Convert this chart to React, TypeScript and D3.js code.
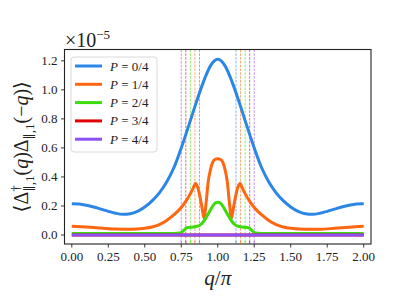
import React from 'react';
import * as d3 from 'd3';

// q/pi grid + values (units of 1e-5)
const blueQ = [0, 0.05, 0.1, 0.15, 0.2, 0.25, 0.3, 0.35, 0.4, 0.45, 0.5, 0.55, 0.6, 0.65, 0.7, 0.75, 0.8, 0.85, 0.9, 0.95, 1.0,
  1.05, 1.1, 1.15, 1.2, 1.25, 1.3, 1.35, 1.4, 1.45, 1.5, 1.55, 1.6, 1.65, 1.7, 1.75, 1.8, 1.85, 1.9, 1.95, 2.0];
const blueVals = [0.215, 0.213, 0.205, 0.193, 0.178, 0.163, 0.15, 0.143, 0.147, 0.163, 0.193, 0.235, 0.29, 0.365, 0.465, 0.6, 0.75, 0.905, 1.05, 1.165, 1.21,
  1.165, 1.05, 0.905, 0.75, 0.6, 0.465, 0.365, 0.29, 0.235, 0.193, 0.163, 0.147, 0.143, 0.15, 0.163, 0.178, 0.193, 0.205, 0.213, 0.215];

const orangeQ = [0, 0.1, 0.2, 0.3, 0.4, 0.5, 0.55, 0.6, 0.65, 0.7, 0.75, 0.78, 0.81, 0.83, 0.847, 0.862, 0.877, 0.892, 0.906, 0.92, 0.935, 0.95, 0.965, 0.98, 1.0,
  1.02, 1.035, 1.05, 1.065, 1.08, 1.094, 1.108, 1.123, 1.138, 1.153, 1.17, 1.19, 1.22, 1.25, 1.3, 1.35, 1.4, 1.45, 1.5, 1.6, 1.7, 1.8, 1.9, 2.0];
const orangeVals = [0.06, 0.055, 0.048, 0.041, 0.039, 0.046, 0.055, 0.072, 0.1, 0.14, 0.19, 0.23, 0.28, 0.32, 0.355, 0.33, 0.27, 0.19, 0.115, 0.22, 0.37, 0.45, 0.5, 0.52, 0.525,
  0.52, 0.5, 0.45, 0.37, 0.22, 0.115, 0.19, 0.27, 0.33, 0.355, 0.32, 0.28, 0.23, 0.19, 0.14, 0.1, 0.072, 0.055, 0.046, 0.04, 0.04, 0.046, 0.054, 0.06];

const greenQ = [0, 0.25, 0.5, 0.7, 0.74, 0.76, 0.78, 0.8, 0.83, 0.86, 0.88, 0.9, 0.92, 0.94, 0.96, 0.98, 1.0,
  1.02, 1.04, 1.06, 1.08, 1.1, 1.12, 1.14, 1.17, 1.2, 1.22, 1.24, 1.26, 1.3, 1.5, 1.75, 2.0];
const greenVals = [0.01, 0.01, 0.01, 0.011, 0.013, 0.025, 0.045, 0.052, 0.055, 0.06, 0.07, 0.09, 0.12, 0.155, 0.19, 0.218, 0.226,
  0.218, 0.19, 0.155, 0.12, 0.09, 0.07, 0.06, 0.055, 0.052, 0.045, 0.025, 0.013, 0.011, 0.01, 0.01, 0.01];

const redQ = [0, 0.5, 1.0, 1.5, 2.0];
const redVals = [0, 0, 0, 0, 0];
const purpleQ = [0, 0.5, 1.0, 1.5, 2.0];
const purpleVals = [0, 0, 0, 0, 0];

const labels = ['P = 0/4', 'P = 1/4', 'P = 2/4', 'P = 3/4', 'P = 4/4'];
const colors = ['#2b86e6', '#ff6610', '#3cdc0c', '#e40000', '#8c50f5'];

// dashed markers per series (q/pi), left and right of pi
const markerLeft = [0.875, 0.84375, 0.8125, 0.78125, 0.75];
const markerRight = [1.125, 1.15625, 1.1875, 1.21875, 1.25];

const xTicks = [0, 0.25, 0.5, 0.75, 1.0, 1.25, 1.5, 1.75, 2.0];
const yTicks = [0, 0.2, 0.4, 0.6, 0.8, 1.0, 1.2];

const W = 398;
const H = 307;
const left = 64.5;
const right = 371;
const top = 49.5;
const bottom = 244;
const serif = "'Liberation Serif', 'DejaVu Serif', serif";

export default function App() {
  const x = d3.scaleLinear().domain([-0.05, 2.05]).range([left, right]);
  const y = d3.scaleLinear().domain([-0.062, 1.278]).range([bottom, top]);

  const series = [
    [blueQ, blueVals],
    [orangeQ, orangeVals],
    [greenQ, greenVals],
    [redQ, redVals],
    [purpleQ, purpleVals],
  ];

  const line = d3
    .line<[number, number]>()
    .x((d) => x(d[0]))
    .y((d) => y(d[1]))
    .curve(d3.curveMonotoneX);

  const ts = { fontFamily: serif, fill: '#222' };

  return (
    <svg width={W} height={H} style={{ position: 'absolute', left: 0, top: 0, background: '#fff', fontFamily: serif }}>
      <defs>
        <clipPath id="plot">
          <rect x={left} y={top} width={right - left} height={bottom - top} />
        </clipPath>
      </defs>

      {/* dashed markers */}
      <g clipPath="url(#plot)">
        {colors.map((c, i) =>
          [markerLeft[i], markerRight[i]].map((q, j) => (
            <line
              key={`${i}-${j}`}
              x1={x(q)}
              x2={x(q)}
              y1={top}
              y2={bottom}
              stroke={c}
              strokeOpacity={0.65}
              strokeWidth={0.9}
              strokeDasharray="2.6,1.2"
            />
          ))
        )}
      </g>

      {/* curves */}
      <g clipPath="url(#plot)">
        {series.map(([qs, vs], i) => (
          <path
            key={i}
            d={line(qs.map((q, k) => [q, vs[k]]) as [number, number][]) || ''}
            fill="none"
            stroke={colors[i]}
            strokeWidth={3}
            strokeLinejoin="round"
          />
        ))}
      </g>

      {/* frame */}
      <rect x={left} y={top} width={right - left} height={bottom - top} fill="none" stroke="#222" strokeWidth={1.1} />

      {/* x axis */}
      {xTicks.map((t) => (
        <g key={t} transform={`translate(${x(t)},${bottom})`}>
          <line y1={0} y2={3.5} stroke="#222" strokeWidth={0.9} />
          <text y={17} textAnchor="middle" style={{ ...ts, fontSize: 13 }}>
            {t.toFixed(2)}
          </text>
        </g>
      ))}
      {markerLeft.concat(markerRight).map((q, i) => (
        <line key={i} x1={x(q)} x2={x(q)} y1={bottom} y2={bottom - 3} stroke={colors[i % 5]} strokeOpacity={0.8} strokeWidth={0.9} />
      ))}

      {/* y axis */}
      {yTicks.map((t) => (
        <g key={t} transform={`translate(${left},${y(t)})`}>
          <line x1={0} x2={-3.5} stroke="#222" strokeWidth={0.9} />
          <text x={-7} dy="0.33em" textAnchor="end" style={{ ...ts, fontSize: 13 }}>
            {t.toFixed(1)}
          </text>
        </g>
      ))}

      {/* offset text */}
      <text x={65} y={47} style={{ ...ts, fontSize: 20 }}>
        ×10
        <tspan style={{ fontSize: 13 }} dy={-8}>−5</tspan>
      </text>

      {/* axis labels */}
      <text x={(left + right) / 2} y={285} textAnchor="middle" style={{ ...ts, fontSize: 21 }}>
        <tspan fontStyle="italic">q</tspan>/<tspan fontStyle="italic">π</tspan>
      </text>
      <g transform={`translate(28,${(top + bottom) / 2}) rotate(-90)`}>
        <text textAnchor="middle" style={{ ...ts, fontSize: 20 }}>
          ⟨Δ
          <tspan style={{ fontSize: 13 }} dy={-8}>†</tspan>
          <tspan style={{ fontSize: 13 }} dx={-6} dy={14}>∥,1</tspan>
          <tspan dy={-6}>(</tspan>
          <tspan fontStyle="italic">q</tspan>
          <tspan>)Δ</tspan>
          <tspan style={{ fontSize: 13 }} dy={6}>∥,1</tspan>
          <tspan dy={-6}>(−</tspan>
          <tspan fontStyle="italic">q</tspan>
          <tspan>)⟩</tspan>
        </text>
      </g>

      {/* legend */}
      <rect x={71} y={57} width={86} height={95} rx={3} fill="#fff" fillOpacity={0.85} stroke="#d6d6d6" strokeWidth={0.9} />
      {labels.map((lab, i) => {
        const ly = 66 + i * 18.3;
        const [p, rest] = [lab.slice(0, 1), lab.slice(1)];
        return (
          <g key={lab}>
            <line x1={75} x2={102} y1={ly} y2={ly} stroke={colors[i]} strokeWidth={3} />
            <text x={110} y={ly} dy="0.35em" style={{ ...ts, fontSize: 13 }}>
              <tspan fontStyle="italic">{p}</tspan>
              {rest}
            </text>
          </g>
        );
      })}
    </svg>
  );
}
